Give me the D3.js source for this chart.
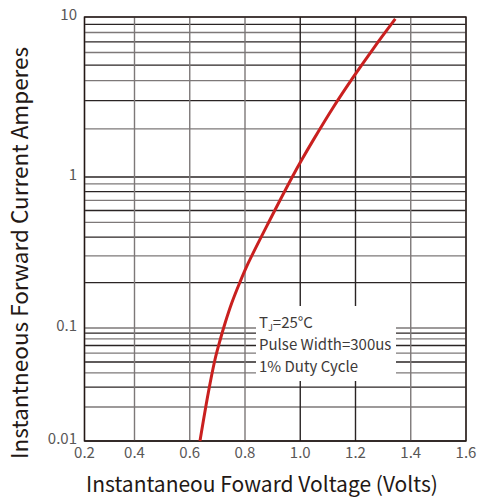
<!DOCTYPE html>
<html><head><meta charset="utf-8">
<script src="https://cdn.jsdelivr.net/npm/d3@7/dist/d3.min.js"></script>
<style>
html,body{margin:0;padding:0;background:#fff;}
svg{display:block;}
text{font-family:"Noto Sans CJK SC","Noto Sans",sans-serif;}
</style></head>
<body>
<svg id="chart" width="480" height="498"></svg>
<script>
// ---- data ----
const voltage = [0.637, 0.667, 0.691, 0.710, 0.728, 0.752, 0.782, 0.812, 0.890, 0.971, 1.005, 1.047, 1.118, 1.190, 1.266, 1.344];
const current = [0.01, 0.0266, 0.0521, 0.0783, 0.1079, 0.1464, 0.2017, 0.2695, 0.519, 1.0, 1.277, 1.70, 2.70, 4.16, 6.40, 9.72];
const xTicks = [0.2, 0.4, 0.6, 0.8, 1.0, 1.2, 1.4, 1.6];
const yTicks = [0.01, 0.1, 1, 10];
const yTickLabels = ["0.01", "0.1", "1", "10"];
const annotationLines = ["Pulse Width=300us", "1% Duty Cycle"];
const xTitle = "Instantaneou Foward Voltage (Volts)";
const yTitle = "Instantneous Forward Current Amperes";

// ---- layout ----
const svg = d3.select("#chart");
const L = 84.5, R = 466, T = 17, B = 441;
const x = d3.scaleLinear().domain([0.2, 0.4, 1.6]).range([L, 134.5, R]);
const y = d3.scaleLog().domain([0.01, 0.1, 1, 10]).range([B, 328, 177, T]);

// grid
const minor = [];
[0.01, 0.1, 1].forEach(d => { for (let k = 1; k <= 9; k++) minor.push(+(d * k).toPrecision(3)); });
minor.push(10);
const g = svg.append("g");
g.selectAll("line.h").data(minor).join("line")
  .attr("x1", L).attr("x2", R)
  .attr("y1", d => y(d)).attr("y2", d => y(d))
  .attr("stroke", (d, i) => i % 2 ? "#7d7878" : "#2a2424").attr("stroke-width", 1.3);
g.selectAll("line.v").data(xTicks).join("line")
  .attr("x1", d => x(d)).attr("x2", d => x(d))
  .attr("y1", T).attr("y2", B)
  .attr("stroke", d => (Math.abs(d - 1.0) < 1e-6 || Math.abs(d - 1.2) < 1e-6) ? "#2a2424" : "#7d7878")
  .attr("stroke-width", 1.4);
g.append("rect").attr("x", L).attr("y", T).attr("width", R - L).attr("height", B - T)
  .attr("fill", "none").attr("stroke", "#231815").attr("stroke-width", 1.4);

// annotation box
svg.append("rect").attr("x", 256).attr("y", 306).attr("width", 140).attr("height", 75).attr("fill", "#fff");

// curve
const pts = voltage.map((v, i) => [v, current[i]]);
svg.append("path").datum(pts)
  .attr("d", d3.line().x(d => x(d[0])).y(d => y(d[1])).curve(d3.curveCatmullRom.alpha(0.5)))
  .attr("fill", "none").attr("stroke", "#c9201f").attr("stroke-width", 3).attr("stroke-linecap", "butt");

// annotation text
const at = svg.append("text").attr("x", 259).attr("y", 328).attr("font-size", 15).attr("fill", "#3e3a39");
at.append("tspan").text("T");
at.append("tspan").attr("font-size", 9).attr("dy", 3).text("J");
at.append("tspan").attr("dy", -3).text("=25°C");
svg.selectAll("text.ann").data(annotationLines).join("text").attr("class", "ann")
  .attr("x", 259).attr("y", (d, i) => 350 + i * 22)
  .attr("font-size", 15).attr("fill", "#3e3a39").text(d => d);

// tick labels
svg.selectAll("text.yt").data(yTicks).join("text").attr("class", "yt")
  .attr("x", 77).attr("y", d => y(d) - 2).attr("dy", "0.35em")
  .attr("text-anchor", "end").attr("font-size", 15).attr("fill", "#595757")
  .text((d, i) => yTickLabels[i]);
svg.selectAll("text.xt").data(xTicks).join("text").attr("class", "xt")
  .attr("x", d => x(d)).attr("y", 458)
  .attr("text-anchor", "middle").attr("font-size", 15).attr("fill", "#595757")
  .text(d => d.toFixed(1));

// titles
svg.append("text").attr("x", 262).attr("y", 492).attr("text-anchor", "middle")
  .attr("font-size", 21).attr("fill", "#231815").text(xTitle);
svg.append("text").attr("transform", "translate(28,253) rotate(-90)").attr("text-anchor", "middle")
  .attr("font-size", 22.5).attr("fill", "#231815").text(yTitle);
</script>
</body></html>
